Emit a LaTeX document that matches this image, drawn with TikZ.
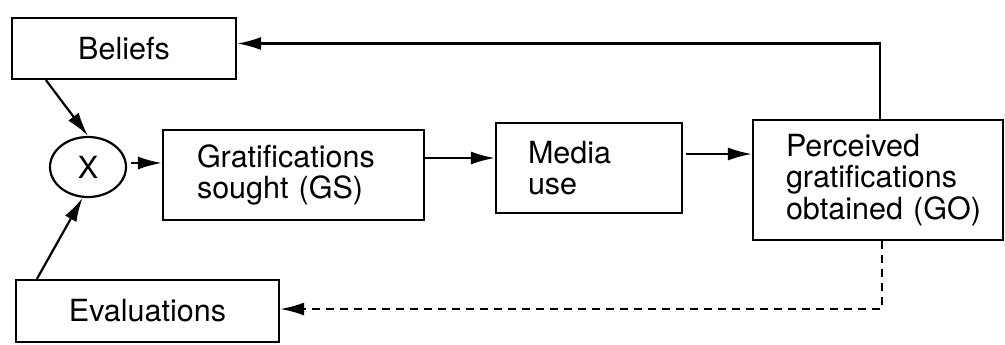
\documentclass[tikz,border=0pt]{standalone}
\usepackage{fontspec}
\setmainfont{TeX Gyre Heros}
\usetikzlibrary{shapes.geometric,arrows.meta,calc}
\begin{document}
\begin{tikzpicture}[x=0.5pt,y=-0.5pt,
  every node/.style={font=\fontsize{15.25pt}{15.6pt}\selectfont},
  cbox/.style={draw,line width=1.1pt,rectangle,inner sep=0pt,align=center},
  lbox/.style={draw,line width=1.1pt,rectangle,inner ysep=0pt,align=left},
  arr/.style={line width=1.1pt,-{Latex[length=12pt,width=6.5pt]}},
  darr/.style={line width=1.1pt,dash pattern=on 4pt off 3pt,-{Latex[length=12pt,width=6.5pt]}}]
\useasboundingbox (0,0) rectangle (1005,344);
\node[cbox,minimum width=112pt,minimum height=30.5pt] (B) at (124,48.5) {Beliefs};
\node[cbox,minimum width=131.5pt,minimum height=31pt] (E) at (147.5,311) {Evaluations};
\node[draw,line width=1.1pt,ellipse,minimum width=38pt,minimum height=30pt,inner sep=0pt] (X) at (88,167) {X};
\node[lbox,minimum width=130.5pt,minimum height=45pt,inner xsep=17pt,text width=96.5pt] (GS) at (293.5,175) {Gratifications\\sought~(GS)};
\node[lbox,minimum width=93pt,minimum height=45pt,inner xsep=16pt,text width=61pt] (M) at (589,168) {Media\\use};
\node[lbox,minimum width=125pt,minimum height=60pt,inner xsep=16.5pt,text width=92pt] (GO) at (878,180) {Perceived\\gratifications\\obtained~(GO)};
\draw[arr] ([xshift=17.5pt]B.south west) -- (X.north);
\draw[arr] ([xshift=11pt]E.north west) -- (X.-100);
\draw[arr,shorten <=2pt] ([yshift=2pt]X.east) -- ([yshift=2pt]X.east -| GS.west);
\draw[arr] ([yshift=8.5pt]GS.east) -- ([yshift=8.5pt]GS.east -| M.west);
\draw[arr,shorten <=1.5pt] ([yshift=7pt]M.east) -- ([yshift=7pt]M.east -| GO.west);
\draw[arr] ([xshift=64pt]GO.north west) |- ([yshift=2.5pt]B.east);
\draw[darr] ([xshift=65pt]GO.south west) |- ([yshift=1pt]E.east);
\end{tikzpicture}
\end{document}
